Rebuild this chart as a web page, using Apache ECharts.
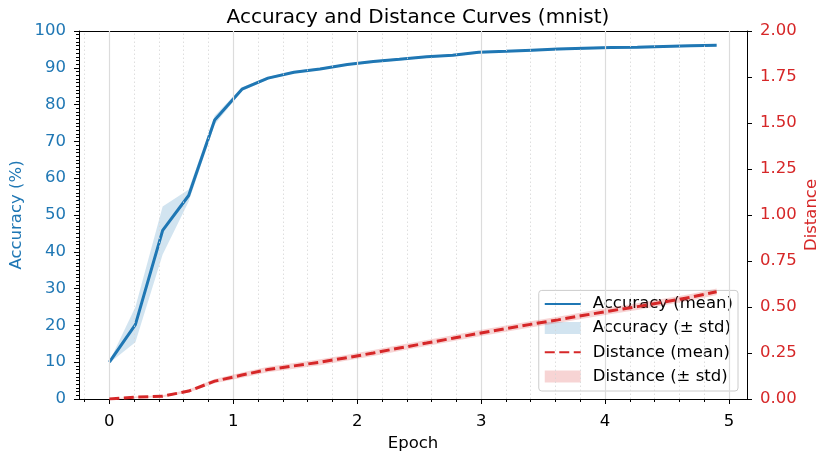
<!DOCTYPE html>
<html>
<head>
<meta charset="utf-8">
<script src="https://cdn.jsdelivr.net/npm/echarts@6/dist/echarts.min.js"></script>
<style>
    html, body { margin: 0; padding: 0; background: #fff; }
    #chart { width: 819px; height: 455px; }
</style>
</head>
<body>
<div id="chart"></div>
<script>
// epochs where the curves were sampled
const epochs = [0, 0.21, 0.43, 0.64, 0.85, 1.07, 1.28, 1.49, 1.70, 1.92, 2.13, 2.34,
    2.56, 2.77, 2.98, 3.20, 3.41, 3.62, 3.83, 4.05, 4.26, 4.47, 4.69, 4.90];
const accMean = [10, 20.2, 45.8, 55.3, 75.8, 84.2, 87.2, 88.8, 89.7, 90.9, 91.7, 92.3,
    93.0, 93.4, 94.2, 94.5, 94.8, 95.1, 95.3, 95.5, 95.6, 95.8, 96.0, 96.1];
const accStd = [0.2, 4.8, 6.5, 1.6, 1.2, 0.5, 0.4, 0.3, 0.3, 0.3, 0.3, 0.3,
    0.3, 0.3, 0.3, 0.3, 0.3, 0.3, 0.3, 0.3, 0.3, 0.3, 0.3, 0.3];
const distMean = [0, 0.01, 0.015, 0.043, 0.097, 0.13, 0.16, 0.18, 0.20, 0.225, 0.25, 0.277,
    0.304, 0.33, 0.357, 0.383, 0.407, 0.43, 0.455, 0.48, 0.502, 0.527, 0.553, 0.583];
const distStd = [0.002, 0.004, 0.006, 0.008, 0.012, 0.014, 0.015, 0.015, 0.016, 0.016, 0.016, 0.016,
    0.016, 0.016, 0.017, 0.017, 0.017, 0.017, 0.018, 0.018, 0.018, 0.018, 0.018, 0.018];
const majorTicks = [0, 1, 2, 3, 4, 5];
const minorTicks = [-0.2, 0.2, 0.4, 0.6, 0.8, 1.2, 1.4, 1.6, 1.8, 2.2, 2.4, 2.6, 2.8,
    3.2, 3.4, 3.6, 3.8, 4.2, 4.4, 4.6, 4.8];

const BLUE = '#1f77b4';
const RED = '#d62728';
const FONT = 'DejaVu Sans';
const FS = 16.5;

let myChart = echarts.init(document.getElementById('chart'), null, { renderer: 'canvas' });

// polygon between mean-std and mean+std, drawn through the axis scales
function band(mean, std) {
    return function (params, api) {
        let pts = [];
        for (let i = 0; i < epochs.length; i++) pts.push(api.coord([epochs[i], mean[i] + std[i]]));
        for (let i = epochs.length - 1; i >= 0; i--) pts.push(api.coord([epochs[i], mean[i] - std[i]]));
        return {
            type: 'polygon',
            shape: { points: pts },
            style: { fill: api.visual('color') }
        };
    };
}

function pairs(ys) {
    return epochs.map((x, i) => [x, ys[i]]);
}

const option = {
    animation: false,
    textStyle: { fontFamily: FONT },
    title: {
        text: 'Accuracy and Distance Curves (mnist)',
        left: 413,
        textAlign: 'center',
        top: 3,
        textStyle: { fontFamily: FONT, fontSize: 20, fontWeight: 'normal', color: '#000' }
    },
    grid: {
        left: 79, right: 72, top: 31, bottom: 56,
        outerBoundsMode: 'none',
        containLabel: false,
        show: false
    },
    legend: {
        orient: 'vertical',
        right: 81,
        bottom: 64,
        z: 3,
        itemWidth: 36,
        itemHeight: 12,
        itemGap: 7.2,
        padding: [5, 5, 6, 5],
        backgroundColor: 'rgba(255,255,255,0.8)',
        borderColor: '#cccccc',
        borderWidth: 1,
        borderRadius: 3,
        textStyle: { fontFamily: FONT, fontSize: FS, color: '#000', padding: [0, 0, 0, 7] },
        data: [
            { name: 'Accuracy (mean)', itemStyle: { opacity: 0 } },
            { name: 'Accuracy (± std)', icon: 'rect' },
            { name: 'Distance (mean)', itemStyle: { opacity: 0 } },
            { name: 'Distance (± std)', icon: 'rect' }
        ]
    },
    xAxis: [{
        type: 'value',
        min: -0.245,
        max: 5.145,
        name: 'Epoch',
        nameLocation: 'middle',
        nameGap: 32,
        nameTextStyle: { fontFamily: FONT, fontSize: FS, color: '#000' },
        axisLine: { show: true, onZero: false, lineStyle: { color: '#000', width: 1 } },
        axisTick: { show: true, inside: false, length: 5, customValues: majorTicks, lineStyle: { color: '#000' } },
        axisLabel: { customValues: majorTicks, margin: 14, fontFamily: FONT, fontSize: FS, color: '#000' },
        splitLine: { show: false }
    }, {
        type: 'value',
        min: -0.245,
        max: 5.145,
        position: 'bottom',
        axisLine: { show: false, onZero: false },
        axisTick: { show: true, length: 3, customValues: minorTicks, lineStyle: { color: '#000' } },
        axisLabel: { show: false },
        splitLine: { show: false }
    }, {
        // top spine of the frame
        type: 'value',
        min: -0.245,
        max: 5.145,
        position: 'top',
        axisLine: { show: true, onZero: false, lineStyle: { color: '#000', width: 1 } },
        axisTick: { show: false },
        axisLabel: { show: false },
        splitLine: { show: false }
    }],
    yAxis: [{
        type: 'value',
        min: 0,
        max: 100,
        interval: 10,
        position: 'left',
        name: 'Accuracy (%)',
        nameLocation: 'middle',
        nameGap: 54,
        nameMoveOverlap: false,
        nameTextStyle: { fontFamily: FONT, fontSize: FS, color: BLUE },
        axisLine: { show: true, onZero: false, lineStyle: { color: '#000', width: 1 } },
        axisTick: { show: true, length: 5, lineStyle: { color: '#000' } },
        minorTick: { show: true, splitNumber: 10, length: 3, lineStyle: { color: '#000' } },
        axisLabel: { margin: 13, fontFamily: FONT, fontSize: FS, color: BLUE },
        splitLine: { show: false }
    }, {
        type: 'value',
        min: 0,
        max: 2,
        interval: 0.25,
        position: 'right',
        name: 'Distance',
        nameLocation: 'middle',
        nameGap: 56,
        nameMoveOverlap: false,
        nameTextStyle: { fontFamily: FONT, fontSize: FS, color: RED },
        axisLine: { show: true, onZero: false, lineStyle: { color: '#000', width: 1 } },
        axisTick: { show: true, length: 5, lineStyle: { color: '#000' } },
        axisLabel: {
            margin: 13, fontFamily: FONT, fontSize: FS, color: RED,
            formatter: (v) => v.toFixed(2)
        },
        splitLine: { show: false }
    }],
    series: [
        {
            // vertical grid lines only
            name: 'grid',
            type: 'line',
            data: [],
            silent: true,
            z: 0,
            markLine: {
                silent: true,
                symbol: 'none',
                label: { show: false },
                animation: false,
                data: majorTicks.map(v => ({ xAxis: v, lineStyle: { color: '#dcdcdc', width: 1.2, type: 'solid' } }))
                    .concat(minorTicks.map(v => ({ xAxis: v, lineStyle: { color: '#d6d6d6', width: 0.8, type: [1.5, 2.5] } })))
            }
        },
        {
            name: 'Accuracy (± std)',
            type: 'custom',
            xAxisIndex: 0,
            yAxisIndex: 0,
            z: 1,
            itemStyle: { color: 'rgba(31,119,180,0.2)' },
            renderItem: band(accMean, accStd),
            data: [[1, 50]]
        },
        {
            name: 'Accuracy (mean)',
            type: 'line',
            xAxisIndex: 0,
            yAxisIndex: 0,
            z: 2,
            symbol: 'circle',
            showSymbol: false,
            color: BLUE,
            lineStyle: { color: BLUE, width: 3 },
            data: pairs(accMean)
        },
        {
            name: 'Distance (± std)',
            type: 'custom',
            xAxisIndex: 0,
            yAxisIndex: 1,
            z: 5,
            itemStyle: { color: 'rgba(214,39,40,0.2)' },
            renderItem: band(distMean, distStd),
            data: [[1, 1]]
        },
        {
            name: 'Distance (mean)',
            type: 'line',
            xAxisIndex: 0,
            yAxisIndex: 1,
            z: 6,
            symbol: 'circle',
            showSymbol: false,
            color: RED,
            lineStyle: { color: RED, width: 3, type: [10, 4.5] },
            data: pairs(distMean)
        }
    ]
};

myChart.setOption(option);
</script>
</body>
</html>
